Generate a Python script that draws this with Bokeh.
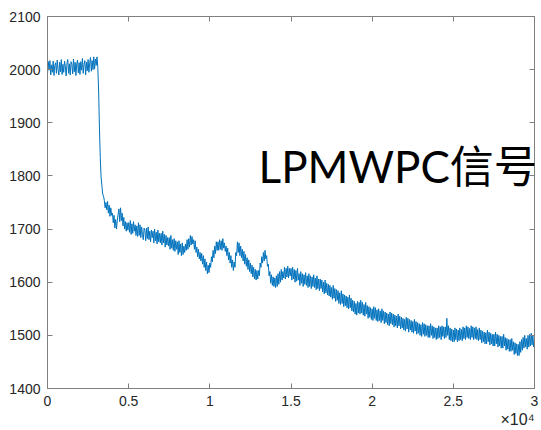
from bokeh.plotting import figure
from bokeh.models import Range1d, LinearAxis, Label, FixedTicker, Title
from bokeh.embed import file_html
from bokeh.resources import INLINE

# one value every 50 samples
x_step = 50
signal = [
    1992, 2015, 1999, 2017, 1990, 2009, 1995, 2016, 1989, 2008,
    2013, 1993, 2018, 2000, 1990, 2014, 1996, 2019, 1991, 2010,
    1995, 2016, 2006, 1988, 2012, 2019, 1993, 2011, 1990, 2015,
    2010, 1992, 2020, 1996, 2014, 1989, 2011, 2018, 1994, 2013,
    1991, 2015, 1999, 2021, 1993, 2010, 2017, 1990, 2014, 1998,
    2019, 1995, 2013, 2023, 1997, 2017, 2000, 2024, 2001, 2020,
    2008, 2024, 2004, 1960, 1890, 1835, 1798, 1782, 1766, 1762,
    1754, 1740, 1750, 1736, 1752, 1730, 1745, 1724, 1740, 1726,
    1730, 1712, 1726, 1702, 1718, 1700, 1716, 1728, 1738, 1714,
    1740, 1716, 1730, 1706, 1722, 1700, 1714, 1696, 1712, 1698,
    1712, 1694, 1716, 1690, 1710, 1692, 1714, 1696, 1708, 1688,
    1706, 1686, 1712, 1688, 1708, 1684, 1704, 1690, 1680, 1702,
    1698, 1678, 1702, 1682, 1704, 1680, 1696, 1676, 1698, 1684,
    1696, 1674, 1700, 1678, 1694, 1672, 1698, 1676, 1692, 1674,
    1692, 1670, 1696, 1674, 1690, 1666, 1688, 1670, 1684, 1668,
    1684, 1662, 1688, 1664, 1680, 1660, 1682, 1658, 1678, 1662,
    1676, 1652, 1678, 1656, 1672, 1650, 1674, 1652, 1668, 1656,
    1672, 1660, 1680, 1662, 1682, 1666, 1688, 1670, 1686, 1672,
    1680, 1662, 1678, 1656, 1666, 1648, 1662, 1644, 1656, 1640,
    1654, 1634, 1650, 1628, 1644, 1622, 1638, 1616, 1632, 1618,
    1636, 1628, 1648, 1638, 1660, 1646, 1668, 1654, 1676, 1660,
    1676, 1660, 1680, 1662, 1678, 1660, 1682, 1664, 1674, 1658,
    1668, 1650, 1664, 1642, 1656, 1636, 1650, 1628, 1642, 1622,
    1638, 1628, 1656, 1650, 1676, 1656, 1674, 1650, 1668, 1646,
    1662, 1640, 1658, 1634, 1652, 1630, 1646, 1624, 1642, 1620,
    1636, 1616, 1632, 1610, 1628, 1606, 1624, 1604, 1622, 1606,
    1622, 1612, 1636, 1628, 1648, 1636, 1656, 1640, 1660, 1644,
    1650, 1630, 1634, 1612, 1620, 1598, 1614, 1594, 1610, 1592,
    1608, 1590, 1612, 1592, 1616, 1596, 1620, 1600, 1624, 1604,
    1620, 1608, 1628, 1606, 1626, 1610, 1630, 1608, 1626, 1612,
    1626, 1604, 1628, 1606, 1624, 1600, 1622, 1602, 1626, 1604,
    1616, 1594, 1620, 1598, 1616, 1592, 1614, 1596, 1618, 1594,
    1612, 1590, 1616, 1592, 1612, 1588, 1610, 1592, 1614, 1590,
    1608, 1586, 1612, 1588, 1606, 1584, 1606, 1588, 1604, 1582,
    1600, 1578, 1604, 1580, 1598, 1576, 1596, 1574, 1594, 1572,
    1590, 1568, 1594, 1570, 1588, 1564, 1586, 1566, 1584, 1560,
    1580, 1558, 1584, 1560, 1578, 1554, 1576, 1556, 1574, 1552,
    1572, 1550, 1576, 1552, 1570, 1546, 1566, 1544, 1564, 1540,
    1560, 1538, 1564, 1542, 1562, 1540, 1566, 1542, 1562, 1538,
    1558, 1536, 1562, 1540, 1556, 1532, 1554, 1534, 1552, 1530,
    1550, 1528, 1554, 1532, 1552, 1528, 1548, 1526, 1550, 1528,
    1546, 1524, 1550, 1528, 1546, 1522, 1544, 1524, 1542, 1520,
    1540, 1518, 1544, 1522, 1542, 1520, 1540, 1516, 1538, 1518,
    1536, 1514, 1540, 1518, 1536, 1512, 1534, 1514, 1532, 1510,
    1530, 1508, 1534, 1512, 1532, 1506, 1530, 1510, 1528, 1506,
    1526, 1504, 1530, 1508, 1526, 1502, 1524, 1504, 1522, 1500,
    1520, 1498, 1524, 1502, 1522, 1498, 1520, 1500, 1518, 1496,
    1518, 1496, 1522, 1500, 1518, 1494, 1516, 1496, 1514, 1492,
    1514, 1494, 1518, 1496, 1516, 1492, 1518, 1498, 1516, 1494,
    1516, 1496, 1532, 1500, 1518, 1492, 1514, 1490, 1512, 1488,
    1510, 1488, 1514, 1492, 1512, 1488, 1510, 1490, 1514, 1492,
    1511, 1490, 1516, 1494, 1514, 1492, 1518, 1496, 1516, 1494,
    1513, 1492, 1518, 1496, 1516, 1492, 1514, 1494, 1516, 1492,
    1511, 1490, 1514, 1492, 1510, 1486, 1508, 1488, 1506, 1484,
    1505, 1484, 1510, 1488, 1506, 1482, 1504, 1484, 1502, 1480,
    1502, 1480, 1506, 1484, 1502, 1478, 1500, 1480, 1498, 1476,
    1498, 1476, 1502, 1480, 1496, 1472, 1494, 1474, 1492, 1470,
    1492, 1470, 1494, 1472, 1488, 1464, 1486, 1466, 1484, 1462,
    1483, 1462, 1488, 1468, 1492, 1472, 1496, 1476, 1500, 1478,
    1494, 1474, 1500, 1478, 1502, 1480, 1504, 1482, 1500, 1478,
    1490,
]
samples = [i * x_step for i in range(len(signal))]

x_ticks = [0, 5000, 10000, 15000, 20000, 25000, 30000]
x_tick_labels = ["0", "0.5", "1", "1.5", "2", "2.5", "3"]
y_ticks = [1400, 1500, 1600, 1700, 1800, 1900, 2000, 2100]

title_text = "LPMWPC信号"
exponent_text = "×10⁴"

AXIS_COLOR = "#808080"
TEXT_COLOR = "#262626"

p = figure(width=541, height=430, output_backend="svg", toolbar_location=None,
           x_range=Range1d(0, 30000), y_range=Range1d(1400, 2100),
           min_border_left=47, min_border_right=7, min_border_top=16,
           min_border_bottom=42, outline_line_color=AXIS_COLOR)
p.grid.visible = False
p.background_fill_color = "white"
p.border_fill_color = "white"

p.line(samples, signal, line_color="#0072BD", line_width=1.0)

def style(ax, labels=True):
    ax.axis_line_color = AXIS_COLOR
    ax.major_tick_line_color = AXIS_COLOR
    ax.major_tick_in = 5
    ax.major_tick_out = 0
    ax.minor_tick_line_color = None
    ax.major_label_text_color = TEXT_COLOR
    ax.major_label_text_font = "Liberation Sans"
    ax.major_label_text_font_size = "14px" if labels else "0px"
    ax.major_label_standoff = 7 if labels else 0

p.xaxis.ticker = FixedTicker(ticks=x_ticks)
p.xaxis.major_label_overrides = {t: l for t, l in zip(x_ticks, x_tick_labels)}
p.yaxis.ticker = FixedTicker(ticks=y_ticks)
style(p.xaxis[0])
style(p.yaxis[0])

top = LinearAxis(ticker=FixedTicker(ticks=x_ticks))
right = LinearAxis(ticker=FixedTicker(ticks=y_ticks))
style(top, False)
style(right, False)
top.major_label_overrides = {t: "" for t in x_ticks}
right.major_label_overrides = {t: "" for t in y_ticks}
p.add_layout(top, "above")
p.add_layout(right, "right")

p.add_layout(Title(text=exponent_text, align="right", text_font="Liberation Sans",
                   text_font_size="16px", text_font_style="normal",
                   text_color=TEXT_COLOR, standoff=0), "below")

p.add_layout(Label(x=13000, y=1818, text=title_text, text_font="Lato, Noto Sans CJK SC",
                   text_font_size="44px", text_color="black", text_baseline="alphabetic"))

open("out.html", "w").write(file_html(p, INLINE))
